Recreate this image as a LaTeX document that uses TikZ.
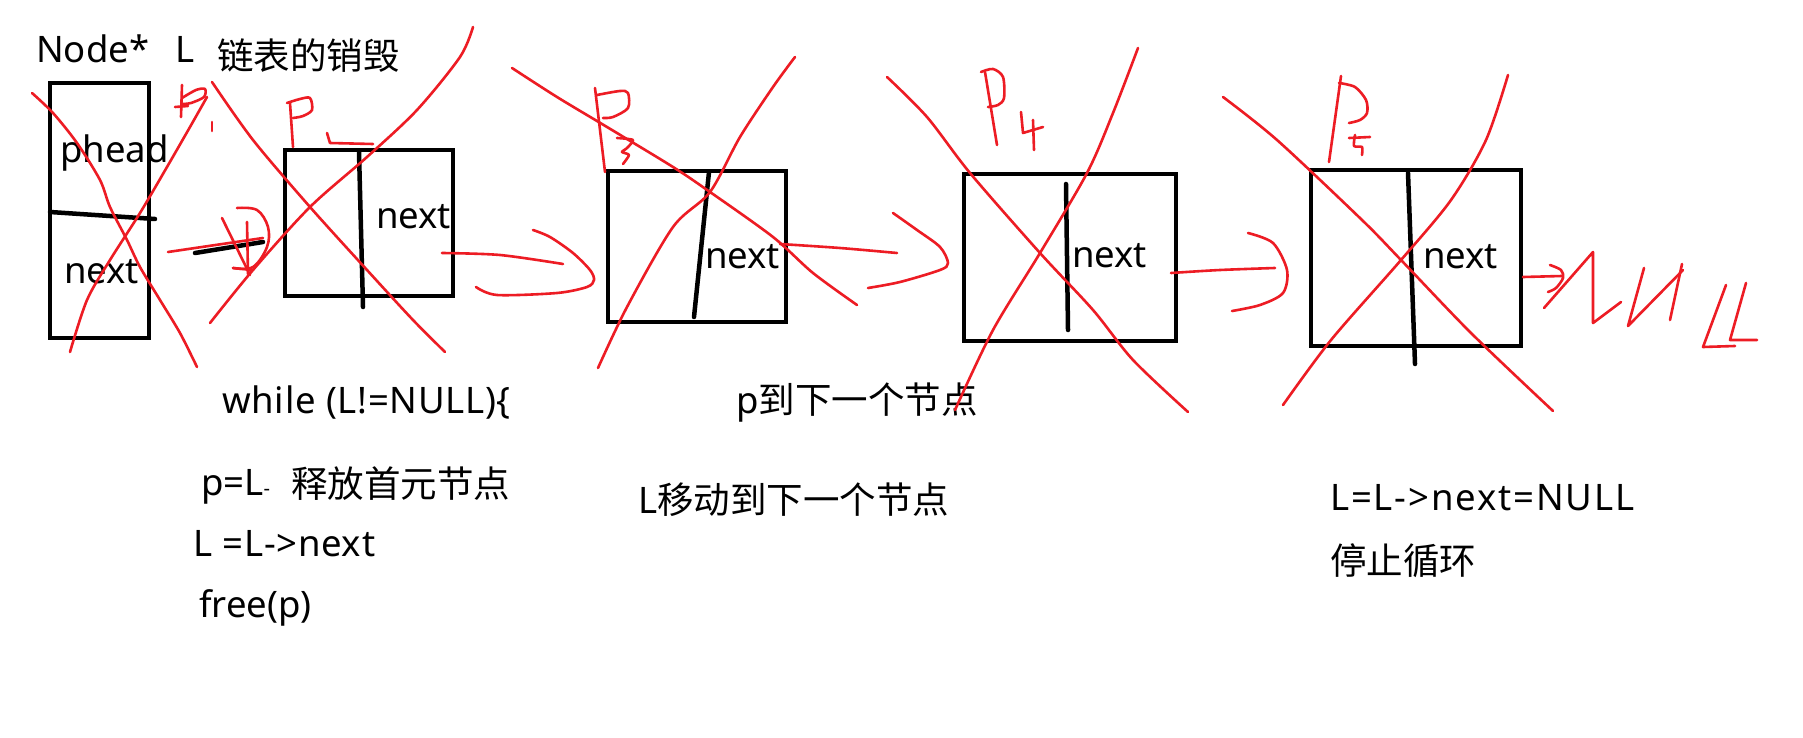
\documentclass[tikz,border=0pt]{standalone}
\usepackage{fontspec}
\setmainfont{Noto Sans}
\newfontfamily\cjk{Noto Sans CJK SC}
\newfontfamily\widesans[LetterSpace=5]{Noto Sans}
\newfontfamily\semisans[LetterSpace=2]{Noto Sans}
\definecolor{pen}{RGB}{237,28,36}
\newcommand{\myfs}{\fontsize{36.5}{40}\selectfont}
\begin{document}
\begin{tikzpicture}[x=1pt,y=-1pt,
  box/.style={draw=black,line width=4pt,inner sep=0pt},
  ink/.style={draw=pen,line width=2.6pt,line cap=round,line join=round},
  pencil/.style={draw=black,line width=4.5pt,line cap=round},
  txt/.style={anchor=base west,inner sep=0pt,font=\myfs}]
\useasboundingbox[fill=white] (0,0) rectangle (1803,738);

% boxes
\node[box,minimum width=99pt,minimum height=255pt] (n1) at (99.5,210.5) {};
\node[box,minimum width=168pt,minimum height=146pt] (n2) at (369,223) {};
\node[box,minimum width=178pt,minimum height=151pt] (n3) at (697,246.5) {};
\node[box,minimum width=212pt,minimum height=167pt] (n4) at (1070,257.5) {};
\node[box,minimum width=210pt,minimum height=176pt] (n5) at (1416,258) {};

% dividers
\draw[pencil] (50,212) -- (155,219);
\draw[pencil] (359,152) -- (363,307);
\draw[pencil] (709,172) -- (694,317);
\draw[pencil] (1066,184) -- (1068,330);
\draw[pencil] (1408,173) -- (1415,364);
% black pointer
\draw[pencil] (195,253) -- (263,242);

% texts
\node[txt] (t1) at (36,63) {Node*};
\node[txt] (t2) at (175,63) {L};
\node[txt] (t3) at (217,70) {\cjk 链表的销毁};
\node[txt] (t4) at (60,163) {phead};
\node[txt] (t5) at (64,283) {next};
\node[txt] (t6) at (376,228) {next};
\node[txt] (t7) at (705,268) {next};
\node[txt] (t8) at (1072,267) {next};
\node[txt] (t9) at (1423,268) {next};
\node[txt] (b1) at (222,413) {\semisans while (L!=NULL)\{};
\node[txt] (b2) at (201,495) {p=L{\fontsize{20}{20}\selectfont -}};
\node[txt] (b3) at (291,497) {\cjk 释放首元节点};
\node[txt] (b4) at (193,556) {\semisans L =L->next};
\node[txt] (b5) at (199,617) {free(p)};
\node[txt] (b6) at (736,413) {p{\cjk 到下一个节点}};
\node[txt] (b7) at (638,513) {L{\cjk 移动到下一个节点}};
\node[txt] (b8) at (1330,510) {\widesans L=L->next=NULL};
\node[txt] (b9) at (1330,574) {\cjk 停止循环};

% red crosses
\draw[ink] plot[smooth,tension=.5] coordinates {(32,93) (53,113) (77,143) (100,180) (110,207) (127,240) (140,267) (160,300) (180,333) (197,367)};
\draw[ink] plot[smooth,tension=.5] coordinates {(70,352) (87,300) (110,260) (140,213) (167,167) (190,127) (207,97)};
\draw[ink] plot[smooth,tension=.5] coordinates {(212,82) (253,140) (310,207) (367,270) (413,320) (445,352)};
\draw[ink] plot[smooth,tension=.5] coordinates {(210,323) (253,270) (310,207) (367,157) (417,110) (460,57) (473,27)};
\draw[ink] plot[smooth,tension=.5] coordinates {(512,68) (557,97) (607,127) (673,167) (710,192) (773,237) (813,273) (857,305)};
\draw[ink] plot[smooth,tension=.5] coordinates {(598,368) (627,307) (673,227) (710,192) (740,137) (773,87) (795,57)};
\draw[ink] plot[smooth,tension=.5] coordinates {(887,77) (927,117) (970,173) (1040,253) (1093,310) (1133,360) (1188,412)};
\draw[ink] plot[smooth,tension=.5] coordinates {(955,410) (993,330) (1040,253) (1087,173) (1113,113) (1138,48)};
\draw[ink] plot[smooth,tension=.5] coordinates {(1223,97) (1277,140) (1362,220) (1401,260) (1471,333) (1553,411)};
\draw[ink] plot[smooth,tension=.5] coordinates {(1283,405) (1331,340) (1401,260) (1451,200) (1486,140) (1508,75)};

% red arrow 1 -> 2 (scribbled)
\draw[ink] (168,252) -- (263,238);
\draw[ink] (222,218) -- (250,275);
\draw[ink] (247,222) -- (248,274);
\draw[ink] (233,268) -- (253,270);
\draw[ink] plot[smooth,tension=.6] coordinates {(237,208) (257,210) (268,227) (267,247) (253,267) (233,268)};

% red arrow 2 -> 3
\draw[ink] plot[smooth,tension=.5] coordinates {(442,253) (500,255) (563,264)};
\draw[ink] plot[smooth,tension=.5] coordinates {(533,230) (550,237) (573,253) (590,270) (594,280) (587,287) (557,293) (497,295) (476,287)};
% red arrow 3 -> 4
\draw[ink] plot[smooth,tension=.5] coordinates {(780,244) (840,248) (897,253)};
\draw[ink] plot[smooth,tension=.5] coordinates {(893,213) (917,230) (940,247) (948,263) (940,270) (900,282) (868,288)};
% red arrow 4 -> 5
\draw[ink] plot[smooth,tension=.5] coordinates {(1171,273) (1220,270) (1275,268)};
\draw[ink] plot[smooth,tension=.5] coordinates {(1248,233) (1273,243) (1287,270) (1283,293) (1260,305) (1232,311)};
% red arrow 5 -> NULL
\draw[ink] (1523,277) -- (1562,276);
\draw[ink] plot[smooth,tension=.5] coordinates {(1550,265) (1561,270) (1563,278) (1556,288) (1548,292)};
% NULL handwriting
\draw[ink] (1544,308) -- (1593,252) -- (1593,323) -- (1621,302);
\draw[ink] (1644,268) -- (1628,326) -- (1683,270);
\draw[ink] (1682,264) -- (1670,320);
\draw[ink] (1726,285) -- (1703,347) -- (1735,346);
\draw[ink] (1746,283) -- (1730,340) -- (1757,340);

% P labels
\draw[ink] (182,85) -- (181,117);
\draw[ink] plot[smooth,tension=.5] coordinates {(182,98) (196,90) (205,89) (204,97) (191,103) (182,104)};
\draw[ink] (175,107) -- (188,106);
\draw[ink] (212,122) -- (212,131);

\draw[ink] (290,103) -- (293,147);
\draw[ink] plot[smooth,tension=.5] coordinates {(287,103) (300,99) (310,98) (312,110) (303,116) (293,118)};
\draw[ink] (327,133) -- (330,143) -- (373,144);

\draw[ink] (595,88) -- (605,172);
\draw[ink] plot[smooth,tension=.5] coordinates {(597,95) (620,91) (628,93) (628,108) (613,117) (603,118)};
\draw[ink] plot[smooth,tension=.4] coordinates {(617,138) (633,140) (627,148) (622,152) (629,155) (623,164)};

\draw[ink] (985,72) -- (997,145);
\draw[ink] plot[smooth,tension=.5] coordinates {(981,72) (993,69) (1003,77) (1004,98) (998,105) (988,107)};
\draw[ink] (1021,112) -- (1023,133) -- (1043,127);
\draw[ink] (1033,120) -- (1034,150);

\draw[ink] (1341,76) -- (1329,162);
\draw[ink] plot[smooth,tension=.5] coordinates {(1339,83) (1355,87) (1366,100) (1367,113) (1360,120) (1349,123)};
\draw[ink] (1349,138) -- (1370,137);
\draw[ink] plot[smooth,tension=.4] coordinates {(1355,135) (1354,146) (1362,147) (1362,155)};
\end{tikzpicture}
\end{document}
